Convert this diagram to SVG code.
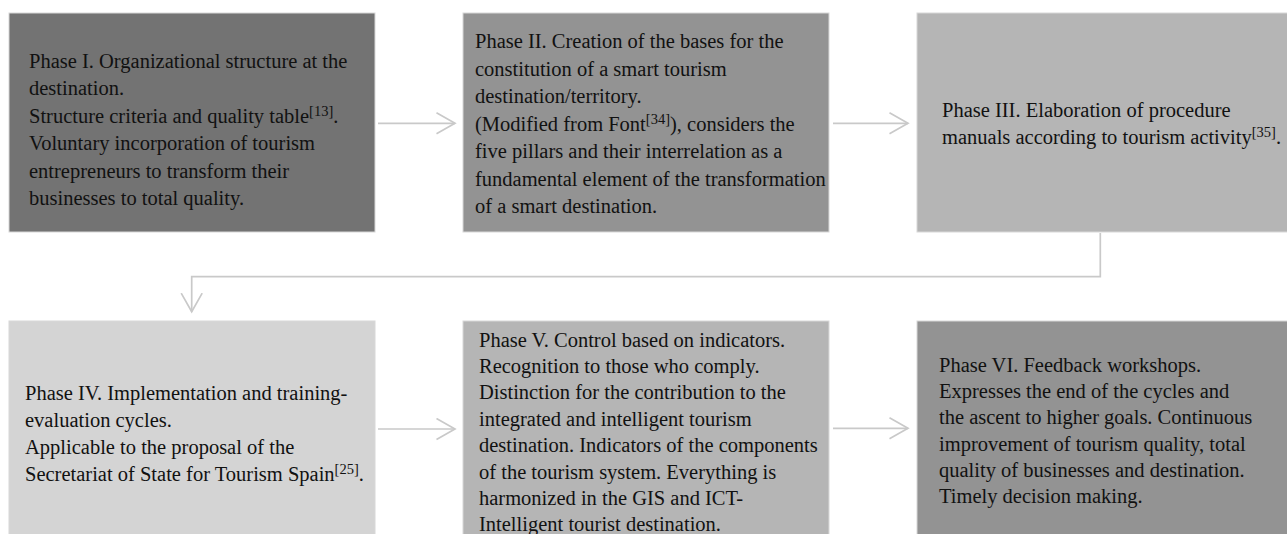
<svg xmlns="http://www.w3.org/2000/svg" width="1287" height="534" viewBox="0 0 1287 534">
<style>
.box{stroke:#d8d8d8;stroke-width:1}
.t{font-family:"Liberation Serif","Times New Roman",serif;font-size:20.5px;fill:#111}
.sup{font-size:14.5px}
.c{fill:none;stroke:#c9c9c9;stroke-width:1.7}
</style>
<defs>
<marker id="ah" markerUnits="userSpaceOnUse" markerWidth="24" markerHeight="26" refX="19" refY="11" orient="auto">
<path d="M0.5,0.5 L19,11 L0.5,21.5" fill="none" stroke="#c9c9c9" stroke-width="1.7"/>
</marker>
</defs>
<rect width="1287" height="534" fill="#ffffff"/>
<g id="connectors">
<path class="c" d="M378,123.3 H455" marker-end="url(#ah)"/>
<path class="c" d="M833,123.3 H908" marker-end="url(#ah)"/>
<path class="c" d="M1100.3,233 V276.7 H191.7 V311.7" marker-end="url(#ah)"/>
<path class="c" d="M378,429 H455" marker-end="url(#ah)"/>
<path class="c" d="M833,428.3 H908" marker-end="url(#ah)"/>
</g>
<g id="phase1">
<rect class="box" x="9" y="13" width="366" height="219" fill="#737373"/>
<text class="t" x="29">
<tspan x="29" y="68">Phase I. Organizational structure at the</tspan>
<tspan x="29" y="95.4">destination.</tspan>
<tspan x="29" y="122.8">Structure criteria and quality table<tspan class="sup" dy="-7">[13]</tspan><tspan dy="7">.</tspan></tspan>
<tspan x="29" y="150.2">Voluntary incorporation of tourism</tspan>
<tspan x="29" y="177.6">entrepreneurs to transform their</tspan>
<tspan x="29" y="205">businesses to total quality.</tspan>
</text>
</g>
<g id="phase2">
<rect class="box" x="463" y="13" width="366" height="219" fill="#939393"/>
<text class="t">
<tspan x="475" y="48">Phase II. Creation of the bases for the</tspan>
<tspan x="475" y="75.5">constitution of a smart tourism</tspan>
<tspan x="475" y="103">destination/territory.</tspan>
<tspan x="475" y="130.5">(Modified from Font<tspan class="sup" dy="-7">[34]</tspan><tspan dy="7">), considers the</tspan></tspan>
<tspan x="475" y="158">five pillars and their interrelation as a</tspan>
<tspan x="475" y="185.5">fundamental element of the transformation</tspan>
<tspan x="475" y="213">of a smart destination.</tspan>
</text>
</g>
<g id="phase3">
<rect class="box" x="917" y="13" width="380" height="219" fill="#b5b5b5"/>
<text class="t">
<tspan x="942" y="116.5">Phase III. Elaboration of procedure</tspan>
<tspan x="942" y="143.5">manuals according to tourism activity<tspan class="sup" dy="-7">[35]</tspan><tspan dy="7">.</tspan></tspan>
</text>
</g>
<g id="phase4">
<rect class="box" x="9" y="321" width="366" height="230" fill="#d4d4d4"/>
<text class="t">
<tspan x="25" y="399.5">Phase IV. Implementation and training-</tspan>
<tspan x="25" y="426.5">evaluation cycles.</tspan>
<tspan x="25" y="453.5">Applicable to the proposal of the</tspan>
<tspan x="25" y="480.5">Secretariat of State for Tourism Spain<tspan class="sup" dy="-7">[25]</tspan><tspan dy="7">.</tspan></tspan>
</text>
</g>
<g id="phase5">
<rect class="box" x="463" y="321" width="366" height="230" fill="#b5b5b5"/>
<text class="t">
<tspan x="479" y="346.5">Phase V. Control based on indicators.</tspan>
<tspan x="479" y="372.9">Recognition to those who comply.</tspan>
<tspan x="479" y="399.3">Distinction for the contribution to the</tspan>
<tspan x="479" y="425.7">integrated and intelligent tourism</tspan>
<tspan x="479" y="452.1">destination. Indicators of the components</tspan>
<tspan x="479" y="478.5">of the tourism system. Everything is</tspan>
<tspan x="479" y="504.9">harmonized in the GIS and ICT-</tspan>
<tspan x="479" y="531.3">Intelligent tourist destination.</tspan>
</text>
</g>
<g id="phase6">
<rect class="box" x="917" y="321" width="380" height="230" fill="#939393"/>
<text class="t">
<tspan x="939" y="371.7">Phase VI. Feedback workshops.</tspan>
<tspan x="939" y="398">Expresses the end of the cycles and</tspan>
<tspan x="939" y="424.3">the ascent to higher goals. Continuous</tspan>
<tspan x="939" y="450.6">improvement of tourism quality, total</tspan>
<tspan x="939" y="476.9">quality of businesses and destination.</tspan>
<tspan x="939" y="503.2">Timely decision making.</tspan>
</text>
</g>
</svg>
